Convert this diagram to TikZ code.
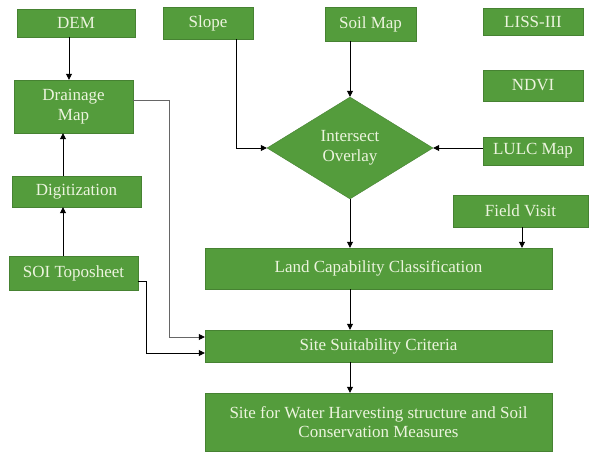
\documentclass[tikz,border=0pt]{standalone}
\usepackage{fontspec}
\setmainfont{Liberation Serif}
\usetikzlibrary{shapes.geometric,arrows.meta}

\definecolor{boxgreen}{RGB}{84,156,60}
\definecolor{boxedge}{RGB}{70,130,50}
\definecolor{boxtext}{RGB}{236,244,222}

\tikzset{
  stagebox/.style={rectangle, draw=boxedge, fill=boxgreen, text=boxtext,
    inner sep=0pt, align=center, font=\fontsize{17}{19.5}\selectfont},
  overlaybox/.style={diamond, draw=boxedge, fill=boxgreen, text=boxtext,
    inner sep=0pt, align=center, font=\fontsize{17}{19.5}\selectfont},
  link/.style={->, line width=0.8pt},
  >={Triangle[length=6pt,width=6pt,black]}
}

\begin{document}
\begin{tikzpicture}[x=1pt,y=-1pt]

\useasboundingbox (0,0) rectangle (592,452);

% Input layers
\node[stagebox, minimum width=118pt, minimum height=28pt] (dem) at (76,23) {DEM};
\node[stagebox, minimum width=90pt, minimum height=32pt] (slope) at (208,23) {Slope};
\node[stagebox, minimum width=91pt, minimum height=34pt] (soil) at (370.5,24) {Soil Map};
\node[stagebox, minimum width=100pt, minimum height=27pt] (liss) at (533,21.5) {LISS-III};
\node[stagebox, minimum width=100pt, minimum height=31pt] (ndvi) at (533,85.5) {NDVI};
\node[stagebox, minimum width=100pt, minimum height=28pt] (lulc) at (533,151) {LULC Map};

% Left column
\node[stagebox, minimum width=119pt, minimum height=53pt] (drain) at (73.5,106.5) {Drainage\\Map};
\node[stagebox, minimum width=129pt, minimum height=31pt] (digit) at (76.5,191.5) {Digitization};
\node[stagebox, minimum width=129pt, minimum height=34pt] (soi) at (73.5,273) {SOI Toposheet};

% Overlay and results
\node[overlaybox, minimum width=166pt, minimum height=102pt] (ovl) at (350,148) {Intersect\\Overlay};
\node[stagebox, minimum width=135pt, minimum height=32pt] (field) at (520.5,211) {Field Visit};
\node[stagebox, minimum width=347pt, minimum height=41pt] (lcc) at (378.5,268.5) {Land Capability Classification};
\node[stagebox, minimum width=347pt, minimum height=32pt] (suit) at (378.5,346) {Site Suitability Criteria};
\node[stagebox, minimum width=347pt, minimum height=58pt] (site) at (378.5,422) {Site for Water Harvesting structure and Soil\\Conservation Measures};

% Left column links
\draw[link] (dem.south -| 69,0) -- (drain.north -| 69,0);
\draw[link] (digit.north -| 63,0) -- (drain.south -| 63,0);
\draw[link] (soi.north -| 63,0) -- (digit.south -| 63,0);

% Into the overlay
\draw[link] (slope.south -| 236,0) -- (236,148) -- (ovl.west);
\draw[link] (soil.south -| ovl.north) -- (ovl.north);
\draw[link] (lulc.west |- ovl.east) -- (ovl.east);

% Down the main column
\draw[link] (ovl.south) -- (lcc.north -| ovl.south);
\draw[link] (field.south -| 522,0) -- (lcc.north -| 522,0);
\draw[link] (lcc.south -| ovl.south) -- (suit.north -| ovl.south);
\draw[link] (suit.south -| ovl.south) -- (site.north -| ovl.south);

% Side inputs to site suitability
\draw[link, gray!80!black] (drain.east |- 0,100) -- (169,100) -- (169,337) -- (suit.west |- 0,337);
\draw[link] (soi.east |- 0,281) -- (146,281) -- (146,353) -- (suit.west |- 0,353);

\end{tikzpicture}
\end{document}
